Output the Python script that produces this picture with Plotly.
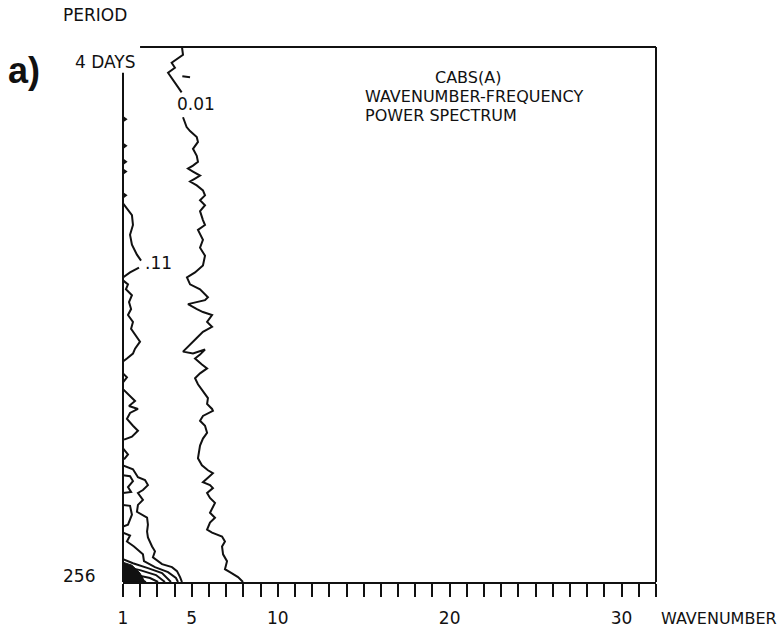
import plotly.graph_objects as go

# Wavenumber-frequency power spectrum of CABS(A): contour traces.
# x: zonal wavenumber (1..32), y: frequency in cycles per 256 days
# (1 -> 256-day period at the bottom, 64 -> 4-day period at the top).

# contour level 0.01 (outer contour), pieces separated by None
wn_001 = [4.43, 4.49, 3.83, 4.02, 3.62, 3.91, 4.32, 4.41, None,
          4.45, 4.90, None,
          4.49, 4.70, 4.90, 5.29, 5.36, 5.07, 5.29, 5.36, 5.07, 4.78,
          5.07, 5.48, 5.19, 4.90, 5.29, 5.65, 5.77, 5.48, 5.77, 5.48,
          5.65, 5.77, 5.36, 5.65, 5.48, 5.77, 5.65, 5.19, 4.72, 4.90,
          5.48, 5.94, 5.77, 4.78, 5.30, 5.65, 6.18, 5.89, 6.18, 5.65,
          5.36, 4.90, 4.49, 5.07, 5.77, 5.48, 5.19, 5.59, 5.89, 5.48,
          5.19, 5.36, 5.65, 5.94, 5.89, 6.18, 6.23, 5.65, 5.48, 5.77,
          5.89, 5.65, 5.48, 5.36, 5.59, 5.94, 6.23, 5.94, 5.65, 6.06,
          6.23, 5.89, 6.06, 6.35, 6.18, 6.06, 6.35, 6.06, 5.89, 6.18,
          6.76, 6.93, 6.76, 6.82, 7.05, 6.93, 7.22, 7.69, 7.98]
fq_001 = [64.00, 63.07, 62.14, 61.56, 60.97, 60.16, 58.99, 58.65, None,
          60.55, 60.45, None,
          55.73, 54.57, 54.10, 53.40, 52.82, 52.01, 51.19, 50.49, 50.03, 49.68,
          49.33, 48.86, 48.51, 48.16, 47.70, 47.12, 46.53, 45.95, 45.37, 44.67,
          43.62, 43.04, 42.46, 41.29, 40.36, 39.43, 38.27, 37.45, 36.87, 36.05,
          35.47, 34.54, 34.19, 33.72, 33.14, 32.79, 32.44, 31.63, 31.05, 30.46,
          29.88, 28.95, 28.13, 27.90, 28.37, 27.78, 27.32, 26.62, 26.15, 25.57,
          24.99, 24.29, 23.48, 22.66, 21.96, 21.38, 21.15, 20.56, 19.98, 19.40,
          18.58, 17.89, 17.07, 15.56, 14.74, 14.16, 13.81, 13.34, 12.76, 12.41,
          12.06, 11.48, 10.90, 10.32, 9.73, 9.15, 8.57, 7.99, 7.17, 6.82,
          6.36, 5.77, 5.19, 4.26, 3.45, 2.51, 2.16, 1.58, 1.00]

# contour level 0.11
wn_011 = [1.00, 1.23, 1.52, 1.58, 1.41, 1.52, 1.81, 2.05, None,
          1.93, 1.41, 1.00, None,
          1.00, 1.29, 1.17, 1.52, 1.35, 1.47, 1.29, 1.58, 1.47, 1.81,
          1.99, 1.70, 1.58, 1.23, 1.00, None,
          1.00, 1.23, 1.00, None,
          1.00, 1.41, 1.70, 1.35, 1.87, 1.41, 1.23, 1.58, 1.87, 1.52, 1.06, None,
          1.00, 1.29, 1.06, None,
          1.00, 1.58, 1.87, 2.28, 2.45, 2.16, 1.87, 2.16, 1.87, 1.81, 2.40,
          2.45, 2.40, 2.45, 2.69, 2.86, 2.74, 3.27, 3.85, 4.14, 4.32, 4.43]
fq_011 = [45.60, 45.02, 44.20, 43.04, 41.88, 40.71, 39.55, 38.85, None,
          38.03, 37.45, 36.87, None,
          36.52, 36.05, 35.47, 34.77, 33.96, 33.14, 32.44, 31.63, 30.81, 29.88,
          29.30, 28.48, 27.90, 27.32, 26.97, None,
          25.57, 25.11, 24.52, None,
          23.71, 22.89, 22.31, 21.73, 21.38, 20.91, 20.22, 19.40, 18.82, 18.12, 17.77, None,
          16.72, 16.02, 15.44, None,
          14.74, 14.28, 13.34, 13.00, 12.41, 11.83, 11.48, 10.67, 10.08, 9.27, 8.57,
          7.75, 6.94, 6.24, 5.19, 4.61, 3.91, 3.10, 2.75, 2.28, 1.58, 1.00]

# higher levels crowded at low wavenumber / low frequency
wn_inner = [1.00, 1.41, 1.58, 1.29, 1.47, 1.00, None,
            1.00, 1.41, 1.52, 1.29, 1.00, None,
            1.00, 1.41, 1.23, 1.64, 2.16, 2.22, 2.86, 3.62, 4.08, 4.20, None,
            1.00, 1.58, 2.45, 3.27, 3.79, None,
            1.00, 1.99, 2.92, 3.44, None,
            1.00, 1.81, 2.57, 3.04, None,
            1.00, 1.70, 2.34]
fq_inner = [13.58, 13.46, 12.88, 12.18, 11.60, 11.48, None,
            10.08, 9.97, 8.92, 7.75, 7.52, None,
            6.82, 6.47, 5.77, 5.19, 4.26, 3.45, 2.75, 2.16, 1.47, 1.00, None,
            3.68, 3.21, 2.63, 2.05, 1.00, None,
            2.86, 2.40, 1.82, 1.00, None,
            2.16, 1.82, 1.47, 1.00, None,
            1.58, 1.35, 1.00]

# solid peak region in the corner
wn_peak = [1.00, 1.52, 1.99, 2.28, 1.00]
fq_peak = [3.33, 2.98, 2.05, 1.00, 1.00]

# small closed contours touching the wavenumber-1 edge
wn_edge = [1.00, 1.17, 1.00, None, 1.00, 1.17, 1.00, None, 1.00, 1.17, 1.00,
           None, 1.00, 1.17, 1.00, None, 1.00, 1.17, 1.00]
fq_edge = [55.75, 55.50, 55.25, None, 52.61, 52.36, 52.11, None, 50.74, 50.49,
           50.24, None, 49.58, 49.33, 49.08, None, 46.78, 46.53, 46.28]

# contour labels
label_text = ["0.01", ".11"]
label_wn = [5.25, 3.09]
label_fq = [57.25, 38.61]

# x-axis ticks
tick_vals = list(range(1, 33))
tick_labels = {1: "1", 5: "5", 10: "10", 20: "20", 30: "30"}

SANS = "DejaVu Sans"
INK = "#111111"

fig = go.Figure()

line_style = dict(color=INK, width=2)
for xs, ys in [(wn_001, fq_001), (wn_011, fq_011), (wn_inner, fq_inner), (wn_edge, fq_edge)]:
    fig.add_trace(go.Scatter(x=xs, y=ys, mode="lines", line=line_style,
                             connectgaps=False, hoverinfo="skip", showlegend=False))

fig.add_trace(go.Scatter(x=wn_peak, y=fq_peak, mode="lines", fill="toself",
                         fillcolor=INK, line=dict(color=INK, width=1),
                         hoverinfo="skip", showlegend=False))

for txt, xv, yv in zip(label_text, label_wn, label_fq):
    fig.add_annotation(x=xv, y=yv, text=txt, showarrow=False, xref="x", yref="y",
                       font=dict(family=SANS, size=17, color=INK),
                       bgcolor="white", borderpad=0)

# frame: left edge stops below the "4 DAYS" label, top edge starts right of it
frame = dict(type="line", xref="paper", yref="paper", line=dict(color=INK, width=2))
fig.add_shape(x0=0, x1=0, y0=0, y1=0.952, **frame)
fig.add_shape(x0=0.032, x1=1, y0=1, y1=1, **frame)
fig.add_shape(x0=1, x1=1, y0=0, y1=1, **frame)

axis_font = dict(family=SANS, size=17, color=INK)
fig.add_annotation(x=-0.0525, y=1.059, xref="paper", yref="paper", text="PERIOD",
                   showarrow=False, font=axis_font, xanchor="center", yanchor="middle")
fig.add_annotation(x=-0.0319, y=0.9723, xref="paper", yref="paper", text="4 DAYS",
                   showarrow=False, font=axis_font, xanchor="center", yanchor="middle")
fig.add_annotation(x=-0.0488, y=0.011, xref="paper", yref="paper", text="256",
                   showarrow=False, font=axis_font, xanchor="right", yanchor="middle")
fig.add_annotation(x=1.0056, y=-0.0684, xref="paper", yref="paper", text="WAVENUMBER",
                   showarrow=False, font=dict(family=SANS, size=16, color=INK),
                   xanchor="left", yanchor="middle")

# three-line title block inside the frame
title_lines = ["CABS(A)", "WAVENUMBER-FREQUENCY", "POWER SPECTRUM"]
title_x = [0.6473, 0.4503, 0.4503]
title_y = [0.9427, 0.9076, 0.8725]
title_anchor = ["center", "left", "left"]
for txt, xv, yv, anc in zip(title_lines, title_x, title_y, title_anchor):
    fig.add_annotation(x=xv, y=yv, xref="paper", yref="paper", text=txt,
                       showarrow=False, font=dict(family=SANS, size=16, color=INK),
                       xanchor=anc, yanchor="middle")

fig.add_annotation(x=-0.1857, y=0.9556, xref="paper", yref="paper", text="<b>a)</b>",
                   showarrow=False, font=dict(family="Liberation Sans", size=36, color=INK),
                   xanchor="center", yanchor="middle")

fig.update_layout(
    width=779, height=640,
    margin=dict(l=123, r=123, t=47, b=52),
    paper_bgcolor="white", plot_bgcolor="white",
    xaxis=dict(range=[1, 32], tickmode="array", tickvals=tick_vals,
               ticktext=[tick_labels.get(v, "") for v in tick_vals],
               ticks="outside", ticklen=13, tickwidth=2, tickcolor=INK,
               showline=True, linewidth=2, linecolor=INK, showgrid=False,
               zeroline=False, tickfont=dict(family=SANS, size=17, color=INK),
               ticklabelstandoff=7),
    yaxis=dict(range=[1, 64], visible=False),
)

fig.write_html("out.html")
